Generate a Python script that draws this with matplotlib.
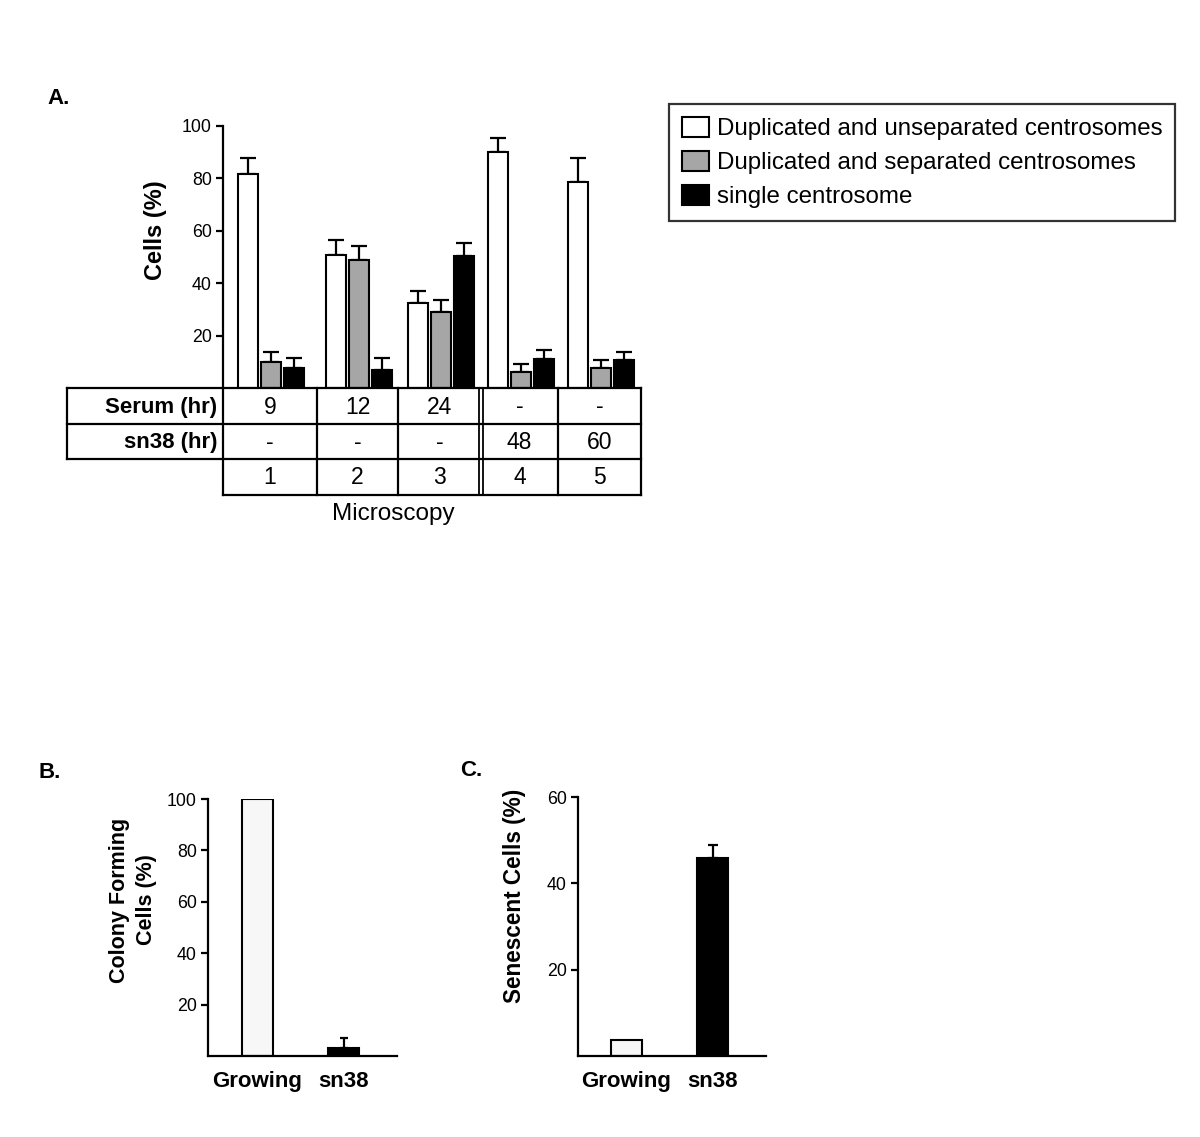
import matplotlib
matplotlib.use("Agg")
import matplotlib.pyplot as plt
from matplotlib.patches import Patch

plt.rcParams['font.family'] = ['Liberation Sans', 'DejaVu Sans']

# panel A data
lanes = ["1", "2", "3", "4", "5"]
serum_hr = ["9", "12", "24", "-", "-"]
sn38_hr = ["-", "-", "-", "48", "60"]
series_names = ["Duplicated and unseparated centrosomes",
                "Duplicated and separated centrosomes",
                "single centrosome"]
unseparated = [81.7, 50.7, 32.6, 90.1, 78.6]
unseparated_err = [6.2, 5.7, 4.4, 5.5, 9.3]
separated = [10.1, 49.0, 29.0, 6.2, 7.7]
separated_err = [3.6, 5.3, 4.5, 2.8, 2.8]
single = [7.7, 6.7, 50.3, 11.0, 10.7]
single_err = [3.7, 4.7, 5.2, 3.6, 3.2]

# panel B / C data
conditions = ["Growing", "sn38"]
colony_forming = [100, 3.1]
colony_forming_err = [0, 3.9]
senescent = [3.7, 45.8]
senescent_err = [0, 3.0]

W, H = 1200, 1137
# table layout in pixels (column edges, row edges)
col_edges = [223, 317, 398, 481, 558, 641]
row_edges = [388, 424, 459, 495]
label_left = 67


def fig_rect(x0, y0, x1, y1):
    # pixel box (top-left origin) -> figure fraction rect
    return [x0 / W, 1 - y1 / H, (x1 - x0) / W, (y1 - y0) / H]


def style_axis(ax):
    for side in ["top", "right"]:
        ax.spines[side].set_visible(False)
    for side in ["left", "bottom"]:
        ax.spines[side].set_linewidth(1.6)
    ax.tick_params(axis='y', direction='out', length=5, width=1.6,
                   labelsize=12.8, pad=3)
    ax.tick_params(axis='x', length=0)


def up_err(ax, x, y, err, cap=6):
    ax.errorbar(x, y, yerr=[[0] * len(err), err], fmt='none',
                ecolor='black', elinewidth=1.6, capsize=cap, capthick=1.6,
                zorder=1)


fig = plt.figure(figsize=(W / 100, H / 100), dpi=100)

# ---------- panel A ----------
axA = fig.add_axes(fig_rect(col_edges[0], 126, col_edges[-1], row_edges[0]))
style_axis(axA)
colors = ["white", "#a6a6a6", "black"]
values = [unseparated, separated, single]
errors = [unseparated_err, separated_err, single_err]
offsets = [-23, 0, 23]
centers = [(a + b) / 2 + 1 for a, b in zip(col_edges[:-1], col_edges[1:])]
for vals, errs, col, off in zip(values, errors, colors, offsets):
    xs = [c + off for c in centers]
    axA.bar(xs, vals, width=20, color=col, edgecolor='black',
            linewidth=1.5, zorder=2)
    up_err(axA, xs, vals, errs)
axA.set_xlim(col_edges[0], col_edges[-1])
axA.set_ylim(0, 100)
axA.set_yticks([20, 40, 60, 80, 100])
axA.set_xticks([])
axA.spines['bottom'].set_visible(False)

fig.text(155 / W, 1 - 230 / H, "Cells (%)", rotation=90, ha='center',
         va='center', fontsize=17, fontweight='bold')
fig.text(47 / W, 1 - 98 / H, "A.", ha='left', va='center', fontsize=16,
         fontweight='bold')

# table under panel A, drawn in pixel coordinates
axT = fig.add_axes([0, 0, 1, 1])
axT.axis('off')
axT.set_xlim(0, W)
axT.set_ylim(H, 0)
kw = dict(color='black', lw=1.6, solid_capstyle='projecting')
for i, y in enumerate(row_edges):
    x0 = col_edges[0] if i == len(row_edges) - 1 else label_left
    axT.plot([x0, col_edges[-1]], [y, y], **kw)
axT.plot([label_left, label_left], [row_edges[0], row_edges[2]], **kw)
for i, x in enumerate(col_edges):
    if i == 3:
        for dx in [-2, 2]:
            axT.plot([x + dx, x + dx], [row_edges[0], row_edges[-1]],
                     color='black', lw=1.3)
    else:
        axT.plot([x, x], [row_edges[0], row_edges[-1]], **kw)
rows = [("Serum (hr)", serum_hr), ("sn38 (hr)", sn38_hr), (None, lanes)]
for r, (label, cells) in enumerate(rows):
    ym = (row_edges[r] + row_edges[r + 1]) / 2 + 1
    if label:
        axT.text(col_edges[0] - 6, ym, label, ha='right', va='center',
                 fontsize=16, fontweight='bold')
    for c, txt in zip(centers, cells):
        axT.text(c - 1, ym, txt, ha='center', va='center', fontsize=16.5)
fig.text(393 / W, 1 - 514 / H, "Microscopy", ha='center', va='center',
         fontsize=17.5)

# legend
handles = [Patch(facecolor=c, edgecolor='black', linewidth=1.5)
           for c in colors]
fig.legend(handles, series_names, loc='upper left',
           bbox_to_anchor=(669 / W, 1 - 104 / H), fontsize=17.4,
           frameon=True, fancybox=False, edgecolor='black',
           handlelength=1.15, handleheight=0.9, handletextpad=0.3,
           labelspacing=0.44, borderpad=0.52, borderaxespad=0)
fig.legends[0].get_frame().set_linewidth(1.6)

# ---------- panel B ----------
axB = fig.add_axes(fig_rect(208, 799, 397, 1056))
style_axis(axB)
axB.bar([0, 1], colony_forming, width=0.36, color=['#f7f7f7', 'black'],
        edgecolor='black', linewidth=1.5, zorder=2)
up_err(axB, [1], [colony_forming[1]], [colony_forming_err[1]], cap=3)
axB.set_xlim(-0.576, 1.622)
axB.set_ylim(0, 100)
axB.set_yticks([20, 40, 60, 80, 100])
axB.set_xticks([0, 1])
axB.set_xticklabels(conditions, fontsize=16, fontweight='bold')
axB.tick_params(axis='x', pad=11)
fig.text(133 / W, 1 - 900 / H, "Colony Forming\nCells (%)", rotation=90,
         ha='center', va='center', fontsize=15.5, fontweight='bold',
         linespacing=1.4)
fig.text(38 / W, 1 - 772 / H, "B.", ha='left', va='center', fontsize=16,
         fontweight='bold')

# ---------- panel C ----------
axC = fig.add_axes(fig_rect(578, 797, 766, 1056))
style_axis(axC)
axC.bar([0, 1], senescent, width=0.37, color=['#f7f7f7', 'black'],
        edgecolor='black', linewidth=1.5, zorder=2)
up_err(axC, [1], [senescent[1]], [senescent_err[1]], cap=3.5)
axC.set_xlim(-0.564, 1.622)
axC.set_ylim(0, 60)
axC.set_yticks([20, 40, 60])
axC.set_xticks([0, 1])
axC.set_xticklabels(conditions, fontsize=16, fontweight='bold')
axC.tick_params(axis='x', pad=11)
fig.text(515 / W, 1 - 896 / H, "Senescent Cells (%)", rotation=90,
         ha='center', va='center', fontsize=16.3, fontweight='bold')
fig.text(460 / W, 1 - 770 / H, "C.", ha='left', va='center', fontsize=16,
         fontweight='bold')

fig.savefig("out.png", dpi=100)
